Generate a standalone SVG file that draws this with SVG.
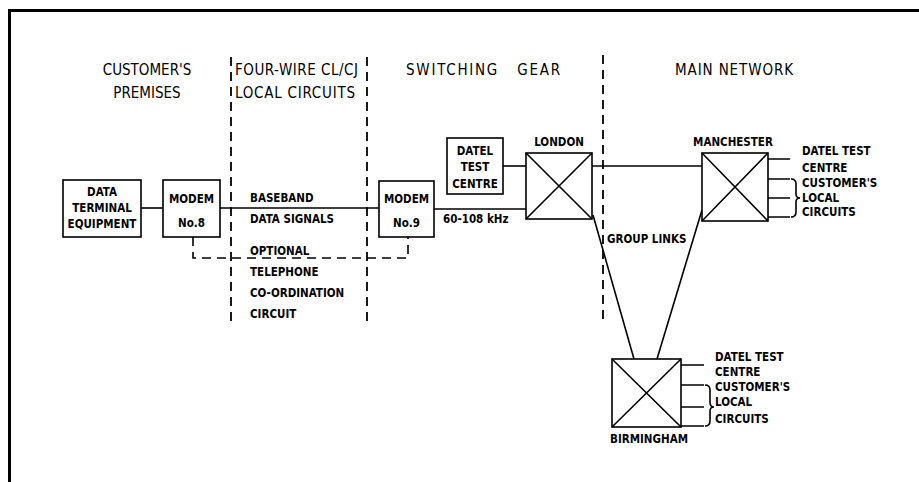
<svg xmlns="http://www.w3.org/2000/svg" width="919" height="482" viewBox="0 0 919 482">
<style>
.ln{stroke:#000;stroke-width:1.6;fill:none}
.bx{stroke:#000;stroke-width:1.6;fill:#fff}
.dl{stroke:#000;stroke-width:1.8;fill:none;stroke-dasharray:9 6}
.hd{font-family:"DejaVu Sans Condensed","DejaVu Sans","Liberation Sans",sans-serif;font-size:15px;fill:#000}
.lb{font-family:"DejaVu Sans Condensed","DejaVu Sans","Liberation Sans",sans-serif;font-size:11.5px;font-weight:bold;fill:#000}
.c{text-anchor:middle}
</style>
<rect width="919" height="482" fill="#fff"/>
<path d="M9.5 482V10.5H919" stroke="#000" stroke-width="3" fill="none"/>

<g id="headings">
<text class="hd c" x="147" y="75">CUSTOMER'S</text>
<text class="hd c" x="147" y="98">PREMISES</text>
<text class="hd" x="235" y="75" textLength="123">FOUR-WIRE CL/CJ</text>
<text class="hd" x="235" y="98" textLength="120">LOCAL CIRCUITS</text>
<text class="hd" x="406" y="75" textLength="154" xml:space="preserve">SWITCHING   GEAR</text>
<text class="hd" x="675" y="75" textLength="118">MAIN NETWORK</text>
</g>

<g id="dividers">
<line class="dl" x1="231" y1="57" x2="231" y2="323"/>
<line class="dl" x1="367" y1="57" x2="367" y2="323"/>
<line class="dl" x1="603" y1="55" x2="603" y2="322"/>
</g>

<g id="connectors">
<line class="ln" x1="141" y1="208" x2="163" y2="208"/>
<line class="ln" x1="220" y1="208" x2="379" y2="208"/>
<path class="ln" d="M193 237V258H408V237" stroke-dasharray="9 6"/>
<line class="ln" x1="434" y1="209" x2="526" y2="209"/>
<line class="ln" x1="503" y1="166" x2="526" y2="166"/>
<line class="ln" x1="592" y1="166" x2="702" y2="166"/>
<line class="ln" x1="593" y1="215" x2="634" y2="359"/>
<line class="ln" x1="702" y1="210" x2="657" y2="359"/>
</g>

<g id="dte">
<rect class="bx" x="63" y="180" width="78" height="57"/>
<text class="lb c" x="102" y="196">DATA</text>
<text class="lb c" x="102" y="212">TERMINAL</text>
<text class="lb c" x="102" y="228">EQUIPMENT</text>
</g>

<g id="modem8">
<rect class="bx" x="163" y="180" width="57" height="57"/>
<text class="lb c" x="191.5" y="203">MODEM</text>
<text class="lb c" x="191.5" y="227">No.8</text>
</g>

<g id="baseband">
<text class="lb" x="250" y="202">BASEBAND</text>
<text class="lb" x="250" y="223">DATA SIGNALS</text>
<text class="lb" x="250" y="255">OPTIONAL</text>
<text class="lb" x="250" y="276">TELEPHONE</text>
<text class="lb" x="250" y="297">CO-ORDINATION</text>
<text class="lb" x="250" y="318">CIRCUIT</text>
</g>

<g id="modem9">
<rect class="bx" x="379" y="181" width="55" height="56"/>
<text class="lb c" x="406.5" y="203">MODEM</text>
<text class="lb c" x="406.5" y="227">No.9</text>
<text class="lb" x="443" y="223">60-108 kHz</text>
</g>

<g id="datel-london">
<rect class="bx" x="447" y="138" width="56" height="56"/>
<text class="lb c" x="475" y="155">DATEL</text>
<text class="lb c" x="475" y="171">TEST</text>
<text class="lb c" x="475" y="188">CENTRE</text>
</g>

<g id="london">
<rect class="bx" x="526" y="153" width="66" height="66"/>
<path class="ln" d="M526 153L592 219M592 153L526 219"/>
<text class="lb c" x="559" y="146">LONDON</text>
</g>

<g id="manchester">
<rect class="bx" x="702" y="153" width="66" height="68"/>
<path class="ln" d="M702 153L768 221M768 153L702 221"/>
<text class="lb c" x="733" y="146">MANCHESTER</text>
<path class="ln" d="M768 159H790M768 179H790M768 198H790M768 217H790"/>
<path class="ln" d="M791 179Q796 179 796 184V194Q796 198 800 198Q796 198 796 202V212Q796 217 791 217"/>
<text class="lb" x="802" y="155">DATEL TEST</text>
<text class="lb" x="802" y="172">CENTRE</text>
<text class="lb" x="802" y="187">CUSTOMER'S</text>
<text class="lb" x="802" y="202">LOCAL</text>
<text class="lb" x="802" y="216">CIRCUITS</text>
</g>

<g id="group-links">
<text class="lb" x="607" y="243">GROUP LINKS</text>
</g>

<g id="birmingham">
<rect class="bx" x="612" y="359" width="69" height="68"/>
<path class="ln" d="M612 359L681 427M681 359L612 427"/>
<text class="lb c" x="649" y="443">BIRMINGHAM</text>
<path class="ln" d="M681 365H704M681 385H704M681 407H704M681 426H704"/>
<path class="ln" d="M705 385Q710 385 710 390V402Q710 407 714 407Q710 407 710 411V421Q710 426 705 426"/>
<text class="lb" x="715" y="361">DATEL TEST</text>
<text class="lb" x="715" y="376">CENTRE</text>
<text class="lb" x="715" y="391">CUSTOMER'S</text>
<text class="lb" x="715" y="406">LOCAL</text>
<text class="lb" x="715" y="423">CIRCUITS</text>
</g>
</svg>
